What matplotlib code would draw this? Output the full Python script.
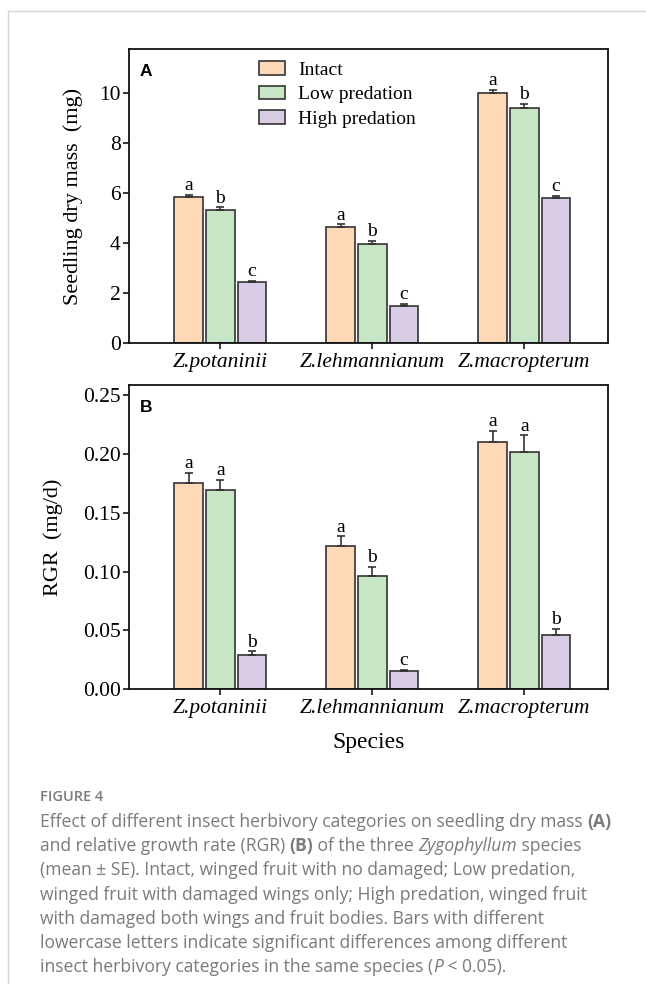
import matplotlib
matplotlib.use('Agg')
import matplotlib.pyplot as plt
import numpy as np
from matplotlib.lines import Line2D
from matplotlib.ticker import FormatStrFormatter

# ---------------- data ----------------
species = ['Z.potaninii', 'Z.lehmannianum', 'Z.macropterum']
treatments = ['Intact', 'Low predation', 'High predation']

mass_intact = [5.85, 4.63, 10.00]
mass_low = [5.33, 3.97, 9.43]
mass_high = [2.44, 1.49, 5.81]
mass_err_intact = [0.09, 0.13, 0.13]
mass_err_low = [0.10, 0.13, 0.16]
mass_err_high = [0.06, 0.07, 0.08]
mass_let_intact = ['a', 'a', 'a']
mass_let_low = ['b', 'b', 'b']
mass_let_high = ['c', 'c', 'c']

rgr_intact = [0.175, 0.122, 0.210]
rgr_low = [0.169, 0.096, 0.202]
rgr_high = [0.029, 0.015, 0.046]
rgr_err_intact = [0.009, 0.008, 0.010]
rgr_err_low = [0.009, 0.008, 0.014]
rgr_err_high = [0.003, 0.0015, 0.005]
rgr_let_intact = ['a', 'a', 'a']
rgr_let_low = ['a', 'b', 'a']
rgr_let_high = ['b', 'c', 'b']

mass_ticks = [0, 2, 4, 6, 8, 10]
rgr_ticks = [0.00, 0.05, 0.10, 0.15, 0.20, 0.25]

colors = ['#FDD9B8', '#C6E6C6', '#D9CDE6']
edge = '#333333'
SERIF = 'Liberation Serif'

W, H = 646, 984
fig = plt.figure(figsize=(W / 100, H / 100), dpi=100)

# page frame lines
fig.add_artist(Line2D([8 / W, 1.0], [1 - 11 / H, 1 - 11 / H], color='#d4d4d4', lw=1.0))
fig.add_artist(Line2D([8 / W, 8 / W], [0, 1 - 11 / H], color='#d4d4d4', lw=1.0))

left, right = 129 / W, 608 / W
axA = fig.add_axes([left, 1 - 343 / H, right - left, (343 - 49) / H])
axB = fig.add_axes([left, 1 - 689 / H, right - left, (689 - 384.7) / H])

x = np.arange(len(species))
step, width = 0.208, 0.188
offsets = [-step, 0, step]


def draw(ax, vals, errs, lets, ylim, ticks, fmt, ylabel, panel):
    for i, (v, e, l) in enumerate(zip(vals, errs, lets)):
        xs = x + offsets[i]
        ax.bar(xs, v, width=width, color=colors[i], edgecolor=edge, linewidth=1.2,
               label=treatments[i], zorder=2)
        ax.errorbar(xs, v, yerr=[np.zeros(len(v)), e], fmt='none', ecolor=edge,
                    elinewidth=1.2, capsize=3, capthick=1.2, zorder=3)
        for xi, vi, ei, li in zip(xs, v, e, l):
            ax.annotate(li, (xi, vi + ei), xytext=(0, 0.5), textcoords='offset points',
                        ha='center', va='bottom', fontsize=14, family=SERIF)
    ax.set_xlim(-0.6, 2.55)
    ax.set_ylim(*ylim)
    ax.set_yticks(ticks)
    if fmt:
        ax.yaxis.set_major_formatter(FormatStrFormatter(fmt))
    ax.set_xticks(x)
    ax.set_xticklabels(species, fontsize=15.5, family=SERIF, style='italic')
    for lab in ax.get_yticklabels():
        lab.set_fontsize(15.5)
        lab.set_family(SERIF)
    ax.tick_params(direction='out', length=4, width=1.1, pad=2)
    ax.tick_params(axis='x', pad=3)
    for s in ax.spines.values():
        s.set_linewidth(1.3)
        s.set_color('#111111')
    ax.set_ylabel(ylabel, fontsize=16, family=SERIF)
    ax.text(0.022, 0.95, panel, transform=ax.transAxes, fontsize=12.5,
            fontweight='bold', family='Liberation Sans', va='top', ha='left')


draw(axA, [mass_intact, mass_low, mass_high],
     [mass_err_intact, mass_err_low, mass_err_high],
     [mass_let_intact, mass_let_low, mass_let_high],
     (0, 11.78), mass_ticks, None, 'Seedling dry mass  (mg)', 'A')
draw(axB, [rgr_intact, rgr_low, rgr_high],
     [rgr_err_intact, rgr_err_low, rgr_err_high],
     [rgr_let_intact, rgr_let_low, rgr_let_high],
     (0, 0.259), rgr_ticks, '%.2f', 'RGR  (mg/d)', 'B')

axA.yaxis.set_label_coords(-0.095, 0.5)
axB.yaxis.set_label_coords(-0.138, 0.5)
axB.set_xlabel('Species', fontsize=17, family=SERIF, labelpad=10)

leg = axA.legend(loc='upper left', bbox_to_anchor=(0.242, 1.005), frameon=False,
                 prop={'family': SERIF, 'size': 14}, handlelength=1.35,
                 handleheight=0.7, handletextpad=0.7, labelspacing=0.36,
                 borderaxespad=0.3)
for p in leg.get_patches():
    p.set_linewidth(1.2)

# ---------------- caption ----------------
renderer = fig.canvas.get_renderer()
cap_color = '#7a7a7a'
CAP = ['Open Sans', 'DejaVu Sans']

fig.text(40 / W, 1 - 797 / H, 'FIGURE 4', fontsize=10.5, family=CAP,
         color='#7a7a7a', fontweight='semibold', va='center', ha='left')

lines = [
    [('Effect of different insect herbivory categories on seedling dry mass ', 'normal', 'normal'),
     ('(A)', 'bold', 'normal')],
    [('and relative growth rate (RGR) ', 'normal', 'normal'), ('(B)', 'bold', 'normal'),
     (' of the three ', 'normal', 'normal'), ('Zygophyllum', 'normal', 'italic'),
     (' species', 'normal', 'normal')],
    [('(mean \u00B1 SE). Intact, winged fruit with no damaged; Low predation,', 'normal', 'normal')],
    [('winged fruit with damaged wings only; High predation, winged fruit', 'normal', 'normal')],
    [('with damaged both wings and fruit bodies. Bars with different', 'normal', 'normal')],
    [('lowercase letters indicate significant differences among different', 'normal', 'normal')],
    [('insect herbivory categories in the same species (', 'normal', 'normal'),
     ('P', 'normal', 'italic'), (' < 0.05).', 'normal', 'normal')],
]

# size caption so that first line spans the same width as in the reference
probe_size = 12
tmp = [fig.text(0, 0, s, fontsize=probe_size, family=CAP, fontweight=w, style=st)
       for s, w, st in lines[0]]
tot = sum(t.get_window_extent(renderer).width for t in tmp)
for t in tmp:
    t.remove()
cap_size = probe_size * (568 / tot)

y0 = 822
for k, segs in enumerate(lines):
    xpx = 40
    ypx = y0 + 24.2 * k
    for s, w, st in segs:
        t = fig.text(xpx / W, 1 - ypx / H, s, fontsize=cap_size, family=CAP,
                     fontweight=w, style=st, color=cap_color, va='center', ha='left')
        xpx += t.get_window_extent(renderer).width

fig.savefig('out.png', dpi=100)
